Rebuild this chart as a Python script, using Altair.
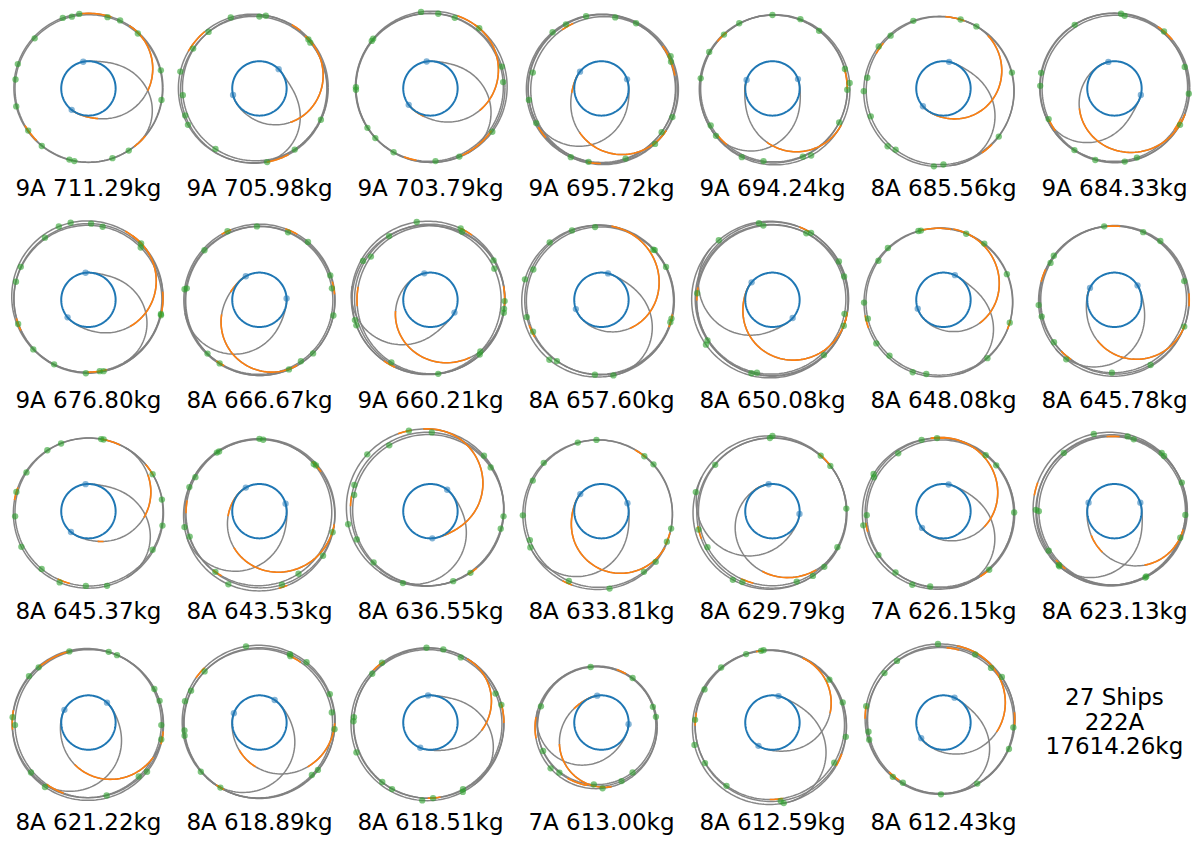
import math
import altair as alt
import pandas as pd

# ---------------- data ----------------
LABELS = ["9A 711.29kg", "9A 705.98kg", "9A 703.79kg", "9A 695.72kg", "9A 694.24kg", "8A 685.56kg", "9A 684.33kg",
          "9A 676.80kg", "8A 666.67kg", "9A 660.21kg", "8A 657.60kg", "8A 650.08kg", "8A 648.08kg", "8A 645.78kg",
          "8A 645.37kg", "8A 643.53kg", "8A 636.55kg", "8A 633.81kg", "8A 629.79kg", "7A 626.15kg", "8A 623.13kg",
          "8A 621.22kg", "8A 618.89kg", "8A 618.51kg", "7A 613.00kg", "8A 612.59kg", "8A 612.43kg"]
SUMMARY = ["27 Ships", "222A", "17614.26kg"]

# outer (asteroid) orbits per ship: (radius AU, centre dx AU, centre dy AU)
ORBITS = [
    [(2.74, 0.0, 0.02), (2.71, 0.01, 0.0)],
    [(2.73, -0.25, 0.0), (2.70, -0.2, -0.05), (2.68, -0.15, 0.02)],
    [(2.78, 0.04, 0.06), (2.74, 0.0, 0.02), (2.72, -0.04, 0.04)],
    [(2.76, 0.07, -0.04), (2.72, 0.02, 0.0), (2.70, 0.1, -0.06), (2.74, -0.02, -0.02)],
    [(2.76, 0.09, -0.05), (2.72, 0.03, -0.02), (2.70, 0.06, 0.0)],
    [(2.76, -0.17, -0.11), (2.72, -0.12, -0.08)],
    [(2.75, 0.02, 0.02), (2.72, -0.03, 0.04), (2.70, 0.04, -0.01)],
    [(2.78, -0.04, 0.12), (2.74, 0.0, 0.06), (2.72, -0.02, 0.02)],
    [(2.78, 0.0, 0.0), (2.74, 0.03, -0.04), (2.72, -0.02, -0.02)],
    [(2.82, -0.09, 0.07), (2.76, -0.03, 0.02), (2.72, 0.02, 0.0), (2.74, -0.14, 0.0)],
    [(2.79, -0.14, -0.05), (2.74, -0.08, 0.0), (2.72, -0.04, -0.04)],
    [(2.88, -0.09, 0.01), (2.82, -0.02, 0.04), (2.78, 0.0, -0.03), (2.75, -0.05, 0.02)],
    [(2.73, -0.19, -0.1), (2.70, -0.15, -0.07)],
    [(2.76, -0.03, -0.05), (2.73, 0.02, 0.0), (2.70, -0.05, 0.02)],
    [(2.76, 0.0, -0.07), (2.72, 0.02, -0.03)],
    [(2.78, -0.01, -0.15), (2.74, 0.04, -0.08), (2.70, -0.04, -0.04)],
    [(2.89, -0.2, 0.13), (2.82, -0.12, 0.08), (2.78, -0.08, 0.04)],
    [(2.75, -0.14, -0.13), (2.71, -0.1, -0.09)],
    [(2.82, -0.1, -0.05), (2.76, -0.02, -0.07), (2.72, 0.0, -0.02)],
    [(2.78, -0.2, -0.09), (2.74, -0.14, -0.05), (2.72, -0.1, -0.1)],
    [(2.81, -0.18, 0.09), (2.76, -0.1, 0.05), (2.73, -0.05, 0.02), (2.75, -0.14, 0.0)],
    [(2.78, -0.02, -0.08), (2.74, -0.06, -0.02), (2.72, 0.02, -0.04)],
    [(2.81, -0.03, 0.03), (2.77, 0.0, -0.02), (2.74, -0.05, -0.03)],
    [(2.81, -0.11, -0.06), (2.76, -0.06, -0.02), (2.73, -0.1, -0.05)],
    [(2.24, -0.2, -0.19), (2.20, -0.15, -0.14), (2.18, -0.18, -0.1)],
    [(2.83, -0.11, -0.18), (2.78, -0.06, -0.12), (2.75, -0.1, -0.08)],
    [(2.75, -0.13, 0.14), (2.71, -0.08, 0.1), (2.70, -0.12, 0.06)],
]

# asteroid encounters (green), angle in degrees seen from the Sun
GREEN = [
    [110, 103, 97, 75, 65, 48, 14, -9, -57, -71, -101, -105, -129, -145, -166, 173, 161, 137],
    [112, 90, 85, 45, 42, -27, -60, -84, -126, -153, -160, -175, 168, 149, 132],
    [97, 84, 71, 51, 17, 5, -35, -67, -86, -120, -138, -148, 181, 179, 141, 139],
    [119, 102, 79, 62, 25, 21, -22, -36, -46, -71, -100, -114, -152, -171, 167, 131],
    [132, 117, 90, 68, 51, 15, 4, -1, -27, -60, -66, -97, -114, -140, -149, 172, 150],
    [114, 76, 62, 13, -41, -90, -97, -128, -134, -159, -178, 172, 147, 135],
    [122, 85, 82, 49, 17, -4, -29, -72, -82, -105, -123, -155, 178, 168],
    [103, 88, 79, 112, 125, 45, 47, 154, 166, -11, -12, -161, -138, -118, -92, -81, -78],
    [115, 92, 67, 50, 19, 9, -12, -45, -56, -67, -122, -134, 172, 171, 138],
    [100, 123, 144, 150, 67, 65, 32, 26, -1, -7, -10, -46, -48, -84, -122, -165, -161],
    [132, 113, 95, 44, 43, 27, -15, -18, 156, 165, -167, -155, -131, -126, -95, -81],
    [132, 100, 97, 63, 60, 30, 18, -11, -20, -47, -106, -102, -146, -148, 175],
    [110, 108, 71, 54, 22, -19, -53, -103, -113, -134, -147, -166, -178, 149, 137],
    [144, 150, 98, 67, 52, 15, -21, -61, -92, -129, -145, -167, -176],
    [124, 112, 80, 78, 30, 9, -11, -31, -76, -92, -112, -129, -152, -176, 165, 148],
    [126, 124, 90, 87, 152, 161, -168, -160, -126, -113, -73, -58, -35, -16, 41, 39],
    [105, 89, 122, 138, 161, 168, -171, -159, -138, -111, -72, -57, -14, -4, 36, 46],
    [109, 94, 140, 156, -177, -158, -153, -115, -84, -55, -43, -25, -14, 42, 52],
    [90, 92, 141, 166, -166, -151, -120, -113, -71, -58, -47, -29, 2, 38, 49],
    [107, 95, 128, 152, 154, -177, -170, -146, -128, -113, -100, 53, 41, -1, -52],
    [105, 80, 75, 131, 51, 48, 23, -3, -22, -64, -65, -136, -135, -149, 180, 179],
    [105, 74, 67, 132, 142, 27, 17, -2, -13, -40, -47, -76, -124, -139, -178, 176],
    [100, 66, 65, 52, 137, 155, 164, -174, -170, -140, -121, -45, -39, -5, 8, 22],
    [93, 80, 65, 129, 140, 24, 14, 176, 179, -158, -129, -120, -96, -88, -64, -65],
    [101, 55, 17, 6, 165, -154, -138, -130, -97, -89, -71, -58],
    [111, 99, 97, 133, 154, 178, -164, -149, -126, -82, -84, -33, -11, 16, 37],
    [94, 65, 49, 38, 127, 140, 168, -173, -167, -133, -124, -92, -61, -22, -4],
]

# Earth departure leg: angle on the Earth orbit, sweep (deg) out to the asteroid belt, thrust arcs (fractions)
DEP_ANGLE = [232, 194, 217, 142, 162, 221, 103, 220, 120, 103, 200, 140, 199, 154,
             230, 120, 274, 141, 98, 218, 162, 152, 160, 248, 99, 239, 215]
DEP_SWEEP = [185, 215, 198, 185, 170, 210, 237, 195, 180, 237, 255, 205, 256, 186,
             190, 230, 181, 189, 232, 242, 183, 200, 210, 172, 180, 186, 225]
DEP_ORANGE = [
    [(0, 0.3), (0.68, 1.0)], [(0.55, 1.0)], [(0, 0.2), (0.6, 1.0)], [(0.05, 0.25), (0.55, 1.0)],
    [(0.05, 0.15), (0.6, 1.0)], [(0, 0.9)], [(0.45, 1.0)], [(0.55, 1.0)], [(0, 0.25), (0.45, 1.0)],
    [(0.4, 0.85)], [(0.45, 0.95)], [(0, 1.0)], [(0.5, 0.95)], [(0, 0.1), (0.5, 1.0)],
    [(0.3, 0.35), (0.65, 0.85)], [(0, 0.3), (0.5, 1.0)], [(0.1, 1.0)], [(0, 1.0)], [(0, 0.15), (0.7, 0.9)],
    [(0, 0.1), (0.5, 1.0)], [(0.35, 0.5), (0.75, 1.0)], [(0.5, 0.9)], [(0.35, 0.5), (0.75, 0.95)],
    [(0.6, 1.0)], [(0, 0.3), (0.6, 1.0)], [(0.7, 1.0)], [(0, 0.1), (0.6, 1.0)],
]
# Earth return leg: arrival angle on the Earth orbit, sweep back to where it leaves the belt
ARR_ANGLE = [101, 45, 98, 19.5, 20, 78, 346, 96, 3, 332, 76, 318, 65, 32,
             96, 16, 52, 17, 354, 79, 18, 47, 56, 95, 356.5, 77, 66]
ARR_SWEEP = [-150, -140, -158, -180, -165, -163, -146, -156, -173, -162, -161, -178, -145, -172,
             -156, -176, -182, -167, -200, -165, -163, -187, -190, -150, -187, -162, -150]

# thrust arcs drawn along the asteroid-belt orbits (deg from, deg to)
OUTER_ORANGE = [
    [(72, 95), (-150, -135), (-52, -40)], [(130, 150), (-80, -62), (52, 60)],
    [(50, 70), (-65, -35), (-110, -100)], [(-150, -140), (10, 35), (115, 125), (-100, -90)],
    [(130, 140), (0, 15), (-140, -130)], [(70, 85), (140, 150), (-55, -45)],
    [(40, 55), (-35, -25), (-155, -145)], [(45, 60), (-15, 5), (-165, -155), (-90, -75)],
    [(60, 70), (5, 15), (-125, -118), (112, 120)], [(55, 65), (-5, 10), (170, 185), (-125, -115)],
    [(-20, -10), (-160, -150)], [(60, 68), (-20, -10), (170, 180)],
    [(80, 105), (-22, -15), (-170, -160)], [(155, 165), (-5, 5), (-135, -125), (85, 95)],
    [(65, 80), (30, 40), (160, 170), (-115, -105)], [(35, 45), (170, 180), (-128, -120), (-75, -68)],
    [(100, 110), (170, 178), (-58, -50)], [(50, 60), (-25, -15), (-118, -110)],
    [(38, 50), (-170, -160), (-115, -105)], [(85, 95), (-172, -165), (-58, -50)],
    [(160, 170), (-138, -128), (85, 95)], [(105, 130), (170, 185), (-125, -110), (-15, -5)],
    [(135, 145), (-125, -118), (55, 65)], [(125, 135), (0, 15), (-90, -80)],
    [(170, 190), (-120, -100), (60, 70)], [(95, 100), (170, 180), (-90, -80), (-30, -20)],
    [(170, 180), (-135, -125), (75, 85), (-5, 5)],
]

# ---------------- layout (pixels of the 1201x844 page) ----------------
NCOLS = 7
X0, Y0 = 87.3, 88.3      # centre of the first panel
STEP_X, STEP_Y = 172.9, 213.7
PX = 27.5                # pixels per AU
LABEL_DY = 102
LINE_GAP = 25
SPIRAL_POW = 1.5

GREY, ORANGE, BLUE, GREEN_C = "#7f7f7f", "#ff7f0e", "#1f77b4", "#2ca02c"


def centre(i):
    return X0 + STEP_X * (i % NCOLS), Y0 + STEP_Y * (i // NCOLS)


def to_px(i, X, Y):
    cx, cy = centre(i)
    return cx + PX * X, cy - PX * Y


def ray_r(orbit, th_deg):
    R, ox, oy = orbit
    t = math.radians(th_deg)
    b = ox * math.cos(t) + oy * math.sin(t)
    return b + math.sqrt(max(b * b - (ox * ox + oy * oy) + R * R, 0.0))


def orbit_pts(i, orbit, a0, a1, step=2.0):
    R, ox, oy = orbit
    n = max(2, int(abs(a1 - a0) / step) + 1)
    out = []
    for k in range(n):
        a = math.radians(a0 + (a1 - a0) * k / (n - 1))
        out.append(to_px(i, ox + R * math.cos(a), oy + R * math.sin(a)))
    return out


def leg_pts(i, ang, sweep, t0, t1, n=90):
    r_end = ray_r(ORBITS[i][0], ang + sweep)
    out = []
    m = max(2, int(n * (t1 - t0)) + 2)
    for k in range(m):
        t = t0 + (t1 - t0) * k / (m - 1)
        f = ((1 - math.cos(math.pi * t)) / 2) ** SPIRAL_POW
        r = 1 + (r_end - 1) * f
        a = math.radians(ang + sweep * t)
        out.append(to_px(i, r * math.cos(a), r * math.sin(a)))
    return out


grey_rows, orange_rows, blue_rows, green_rows, bdot_rows, text_rows = [], [], [], [], [], []
cid = 0


def add(rows, pts):
    global cid
    for k, (x, y) in enumerate(pts):
        rows.append({"cid": cid, "k": k, "x": x, "y": y})
    cid += 1


for i in range(len(LABELS)):
    for orb in ORBITS[i]:
        add(grey_rows, orbit_pts(i, orb, 0, 360))
    add(grey_rows, leg_pts(i, DEP_ANGLE[i], DEP_SWEEP[i], 0, 1))
    add(grey_rows, leg_pts(i, ARR_ANGLE[i], ARR_SWEEP[i], 0, 1))
    for (t0, t1) in DEP_ORANGE[i]:
        add(orange_rows, leg_pts(i, DEP_ANGLE[i], DEP_SWEEP[i], t0, t1))
    for j, (a0, a1) in enumerate(OUTER_ORANGE[i]):
        add(orange_rows, orbit_pts(i, ORBITS[i][j % len(ORBITS[i])], a0, a1, step=1.0))
    add(blue_rows, orbit_pts(i, (1.0, 0.0, 0.0), 0, 360))
    for j, g in enumerate(GREEN[i]):
        orb = ORBITS[i][j % len(ORBITS[i])]
        r = ray_r(orb, g)
        x, y = to_px(i, r * math.cos(math.radians(g)), r * math.sin(math.radians(g)))
        green_rows.append({"x": x, "y": y})
    for a in (DEP_ANGLE[i], ARR_ANGLE[i]):
        x, y = to_px(i, math.cos(math.radians(a)), math.sin(math.radians(a)))
        bdot_rows.append({"x": x, "y": y})
    cx, cy = centre(i)
    text_rows.append({"x": cx, "y": cy + LABEL_DY, "t": LABELS[i]})

cx, cy = centre(len(LABELS))
for j, s in enumerate(SUMMARY):
    text_rows.append({"x": cx, "y": cy + (j - 1) * LINE_GAP, "t": s})

X = alt.X("x:Q", scale=alt.Scale(domain=[8, 1193], nice=False, zero=False), axis=None)
Y = alt.Y("y:Q", scale=alt.Scale(domain=[836, 8], nice=False, zero=False), axis=None)

grey = alt.Chart(pd.DataFrame(grey_rows)).mark_line(color=GREY, strokeWidth=1.5, opacity=0.95).encode(
    x=X, y=Y, detail="cid:N", order="k:Q")
orange = alt.Chart(pd.DataFrame(orange_rows)).mark_line(color=ORANGE, strokeWidth=1.6).encode(
    x=X, y=Y, detail="cid:N", order="k:Q")
blue = alt.Chart(pd.DataFrame(blue_rows)).mark_line(color=BLUE, strokeWidth=2.0).encode(
    x=X, y=Y, detail="cid:N", order="k:Q")
greens = alt.Chart(pd.DataFrame(green_rows)).mark_circle(color=GREEN_C, size=40, opacity=0.6).encode(x=X, y=Y)
bdots = alt.Chart(pd.DataFrame(bdot_rows)).mark_circle(color=BLUE, size=40, opacity=0.55).encode(x=X, y=Y)
texts = alt.Chart(pd.DataFrame(text_rows)).mark_text(
    font="DejaVu Sans", fontSize=23, color="black", align="center", baseline="middle").encode(
    x=X, y=Y, text="t:N")

chart = alt.layer(grey, orange, blue, greens, bdots, texts).properties(
    width=1185, height=828, padding=0,
    autosize=alt.AutoSizeParams(type="fit", contains="padding"),
    background="white",
).configure_view(stroke=None)

chart.save("out.html", embed_options={"renderer": "svg", "actions": False})
